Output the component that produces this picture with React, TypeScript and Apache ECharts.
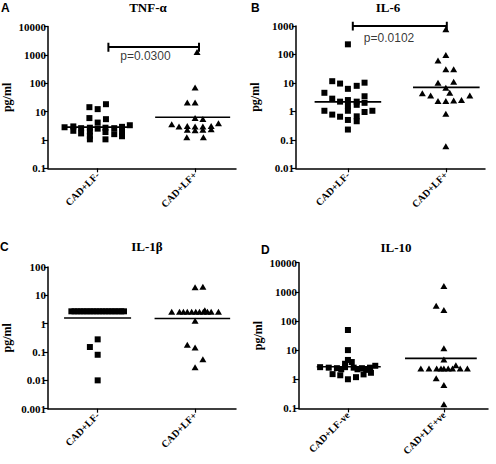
import React, { useEffect, useRef } from "react";
import * as echarts from "echarts";

// ---------- categories ----------
const categoriesABC = ["CAD+LF-", "CAD+LF+"];
const categoriesD = ["CAD+LF-ve", "CAD+LF+ve"];
const panelTitles = ["TNF-α", "IL-6", "IL-1β", "IL-10"];
const panelLetters = ["A", "B", "C", "D"];
const yAxisName = "pg/ml";

// ---------- A: TNF-α (pg/ml) ----------
const tnfNeg = [18.2, 14.3, 12.2, 5.9, 5.4, 4.1, 3.3, 3.0, 2.9, 2.8, 2.7, 2.7, 2.6, 2.6, 2.5, 2.1, 2.0, 1.9, 1.9, 1.7, 1.6, 1.4, 1.35, 1.05, 1.05];
const tnfPos = [1250, 70, 21, 21, 5.9, 5.5, 3.6, 3.0, 3.1, 2.3, 3.0, 2.2, 3.0, 2.3, 3.1, 2.4, 3.9, 1.25, 1.25];
const tnfLines = [2.82, 6.3];

// ---------- B: IL-6 ----------
const il6Neg = [227, 11.5, 9.5, 6.2, 7.9, 10.2, 4.5, 3.4, 2.8, 2.2, 2.5, 2.2, 1.7, 2.0, 1.6, 1.05, 0.77, 0.65, 1.05, 0.5, 0.67, 0.45, 0.95, 1.05, 0.23];
const il6Pos = [765, 96, 61, 30, 30, 10.1, 11, 6.7, 4.5, 4.3, 3.6, 2.3, 2.3, 2.4, 2.5, 3.6, 0.83, 0.059];
const il6Lines = [2.16, 6.95];

// ---------- C: IL-1β ----------
const il1bNeg = [2.73, 2.73, 2.73, 2.73, 2.73, 2.73, 2.73, 2.73, 2.73, 2.73, 2.73, 2.73, 2.73, 2.73, 2.73, 2.73, 2.73, 2.73, 0.28, 0.15, 0.08, 0.01];
const il1bPos = [19.2, 20, 2.64, 2.64, 2.64, 2.64, 2.64, 2.64, 2.64, 2.64, 2.64, 2.64, 2.64, 3.0, 1.28, 0.18, 0.145, 0.056, 0.029];
const il1bLines = [1.58, 1.52];

// ---------- D: IL-10 ----------
const il10Neg = [49, 10, 4.6, 3.9, 2.6, 2.5, 2.4, 2.6, 2.5, 2.4, 2.5, 2.9, 3.4, 2.2, 2.2, 2.1, 1.5, 1.37, 1.0, 1.18, 1.47, 1.67];
const il10Pos = [1580, 330, 237, 11.5, 4.8, 2.35, 2.35, 2.35, 2.35, 2.35, 2.35, 2.35, 2.35, 2.35, 3.0, 1.08, 0.63, 0.14];
const il10Lines = [2.68, 5.2];

// ---------- significance ----------
const pLabels = ["p=0.0300", "p=0.0102"];

// ---------- layout (horizontal scatter of dots around each category) ----------
const tnfNegJitter = [0.085, -0.085, 0, -0.085, 0.085, 0, 0.33, -0.25, 0.25, -0.34, -0.08, 0.08, -0.17, 0.17, 0, -0.25, -0.08, 0.08, 0.25, -0.17, 0.17, -0.08, 0.25, -0.08, 0.08];
const tnfPosJitter = [0.02, 0, -0.08, 0, 0, 0.08, -0.24, -0.165, -0.08, -0.08, 0, 0, 0.08, 0.08, 0.165, 0.165, 0.24, -0.085, 0.085];
const il6NegJitter = [0, -0.16, -0.08, 0, 0.09, 0.17, -0.24, 0.17, -0.16, -0.08, 0, 0.09, 0.09, 0.17, 0, -0.24, -0.16, -0.08, 0, 0, 0.09, 0.09, 0.17, 0.25, 0];
const il6PosJitter = [0, 0, -0.08, 0, 0.08, -0.08, 0.08, 0, 0.04, -0.24, -0.155, -0.08, 0, 0.08, 0.16, 0.245, 0, 0];
const il1bNegJitter = [-0.27, -0.238, -0.206, -0.174, -0.142, -0.11, -0.078, -0.046, -0.014, 0.018, 0.05, 0.082, 0.114, 0.146, 0.178, 0.21, 0.242, 0.27, 0, -0.08, 0, 0];
const il1bPosJitter = [0, 0.08, -0.24, -0.16, -0.12, -0.08, -0.035, 0.007, 0.045, 0.085, 0.127, 0.165, 0.24, 0.1, 0, -0.08, 0, 0.08, 0];
const il10NegJitter = [0, 0, 0, 0.04, -0.29, -0.2, -0.115, -0.03, 0.06, 0.146, 0.23, 0.285, -0.03, -0.07, 0.1, 0.19, -0.16, -0.08, 0, 0.084, 0.163, 0.24];
const il10PosJitter = [0, -0.08, 0, 0, 0, -0.24, -0.155, -0.075, -0.03, 0, 0.045, 0.09, 0.17, 0.245, 0.125, -0.08, 0, 0];

const SERIF = '"Liberation Serif", "Times New Roman", serif';
const SANS = '"Liberation Sans", Arial, sans-serif';

type Panel = {
  neg: number[]; negJ: number[]; pos: number[]; posJ: number[]; lines: number[];
  cats: string[]; yMin: number; yMax: number; xMin: number; xMax: number;
  grid: { left: number; top: number; width: number; height: number };
  spans: number[][];
  titleX: number; titleY: number; letterX: number; letterY: number;
  bracket?: { x1: number; x2: number; y: number; yHi: number; yLo: number; tx: number; ty: number; label: string };
};

const panels: Panel[] = [
  {
    neg: tnfNeg, negJ: tnfNegJitter, pos: tnfPos, posJ: tnfPosJitter, lines: tnfLines,
    cats: categoriesABC, yMin: 0.1, yMax: 10000, xMin: 0.49, xMax: 2.42,
    grid: { left: 48, top: 26.5, width: 188, height: 141.8 },
    spans: [[0.65, 1.34], [1.59, 2.36]],
    titleX: 148, titleY: 1, letterX: 1, letterY: 1.5,
    bracket: { x1: 1.11, x2: 2.04, y: 1900, yHi: 2700, yLo: 1300, tx: 1.49, ty: 900, label: pLabels[0] },
  },
  {
    neg: il6Neg, negJ: il6NegJitter, pos: il6Pos, posJ: il6PosJitter, lines: il6Lines,
    cats: categoriesABC, yMin: 0.01, yMax: 1000, xMin: 0.47, xMax: 2.4,
    grid: { left: 296, top: 26, width: 189, height: 142.3 },
    spans: [[0.66, 1.34], [1.665, 2.345]],
    titleX: 388, titleY: 0.5, letterX: 251, letterY: 1.5,
    bracket: { x1: 1.05, x2: 2.01, y: 1000, yHi: 1420, yLo: 690, tx: 1.42, ty: 385, label: pLabels[1] },
  },
  {
    neg: il1bNeg, negJ: il1bNegJitter, pos: il1bPos, posJ: il1bPosJitter, lines: il1bLines,
    cats: categoriesABC, yMin: 0.001, yMax: 100, xMin: 0.49, xMax: 2.42,
    grid: { left: 48, top: 267, width: 188, height: 141.7 },
    spans: [[0.655, 1.343], [1.584, 2.36]],
    titleX: 147, titleY: 240, letterX: 0, letterY: 240.5,
    bracket: undefined,
  },
  {
    neg: il10Neg, negJ: il10NegJitter, pos: il10Pos, posJ: il10PosJitter, lines: il10Lines,
    cats: categoriesD, yMin: 0.1, yMax: 10000, xMin: 0.49, xMax: 2.46,
    grid: { left: 299, top: 262.7, width: 189, height: 145.7 },
    spans: [[0.675, 1.342], [1.595, 2.343]],
    titleX: 396, titleY: 240.5, letterX: 261, letterY: 244,
    bracket: undefined,
  },
];

function fmtLog(v: number): string {
  return String(parseFloat(v.toPrecision(4)));
}

function buildOption() {
  const grid: any[] = [];
  const xAxis: any[] = [];
  const yAxis: any[] = [];
  const series: any[] = [];
  const graphic: any[] = [];

  panels.forEach((p, i) => {
    grid.push({ ...p.grid, containLabel: false });
    xAxis.push({
      type: "value",
      gridIndex: i,
      min: p.xMin,
      max: p.xMax,
      splitLine: { show: false },
      axisLine: { show: true, lineStyle: { color: "#000", width: 1.5 } },
      axisTick: { show: true, customValues: [1, 2], length: 4, lineStyle: { color: "#000", width: 1.2 } },
      axisLabel: {
        show: true,
        customValues: [1, 2],
        rotate: 45,
        margin: 5,
        color: "#000",
        fontFamily: SERIF,
        fontWeight: "bold",
        fontSize: 10,
        formatter: (v: number) => p.cats[Math.round(v) - 1] ?? "",
      },
    });
    yAxis.push({
      type: "log",
      logBase: 10,
      gridIndex: i,
      min: p.yMin,
      max: p.yMax,
      name: yAxisName,
      nameLocation: "middle",
      nameGap: 35,
      nameTextStyle: { color: "#000", fontFamily: SERIF, fontWeight: "bold", fontSize: 12 },
      splitLine: { show: false },
      minorTick: { show: false },
      axisLine: { show: true, lineStyle: { color: "#000", width: 1.5 } },
      axisTick: { show: true, length: 4, lineStyle: { color: "#000", width: 1.2 } },
      axisLabel: {
        color: "#000",
        fontFamily: SERIF,
        fontWeight: "bold",
        fontSize: 11,
        margin: 2,
        formatter: fmtLog,
      },
    });

    series.push({
      type: "scatter",
      xAxisIndex: i,
      yAxisIndex: i,
      symbol: "rect",
      symbolSize: 6,
      itemStyle: { color: "#000", opacity: 1 },
      silent: true,
      data: p.neg.map((v, k) => [1 + p.negJ[k], v]),
    });
    series.push({
      type: "scatter",
      xAxisIndex: i,
      yAxisIndex: i,
      symbol: "triangle",
      symbolSize: [7, 6],
      itemStyle: { color: "#000", opacity: 1 },
      silent: true,
      data: p.pos.map((v, k) => [2 + p.posJ[k], v]),
    });
    p.lines.forEach((m, g) => {
      series.push({
        type: "line",
        xAxisIndex: i,
        yAxisIndex: i,
        symbol: "none",
        silent: true,
        z: 3,
        lineStyle: { color: "#000", width: 1.6 },
        data: [[p.spans[g][0], m], [p.spans[g][1], m]],
      });
    });
    if (p.bracket) {
      const b = p.bracket;
      series.push({
        type: "line",
        xAxisIndex: i,
        yAxisIndex: i,
        symbol: "none",
        silent: true,
        clip: false,
        lineStyle: { color: "#000", width: 2 },
        data: [[b.x1, b.yHi], [b.x1, b.yLo], [b.x1, b.y], [b.x2, b.y], [b.x2, b.yHi], [b.x2, b.yLo]],
      });
      series.push({
        type: "scatter",
        xAxisIndex: i,
        yAxisIndex: i,
        symbol: "circle",
        symbolSize: 2,
        silent: true,
        clip: false,
        itemStyle: { color: "rgba(0,0,0,0)" },
        label: {
          show: true,
          position: "inside",
          formatter: () => b.label,
          color: "#000",
          textBorderWidth: 0,
          textBorderColor: "transparent",
          fontFamily: SANS,
          fontSize: 12,
        },
        data: [[b.tx, b.ty]],
      });
    }

    graphic.push({
      type: "text",
      x: p.titleX,
      y: p.titleY,
      style: {
        text: panelTitles[i],
        fill: "#000",
        font: `bold 13px ${SERIF}`,
        align: "center",
        textAlign: "center",
        verticalAlign: "top",
        textVerticalAlign: "top",
      },
    });
    graphic.push({
      type: "text",
      x: p.letterX,
      y: p.letterY,
      style: {
        text: panelLetters[i],
        fill: "#000",
        font: `bold 12px ${SANS}`,
        align: "left",
        textAlign: "left",
        verticalAlign: "top",
        textVerticalAlign: "top",
      },
    });
  });

  return {
    animation: false,
    backgroundColor: "#fff",
    grid,
    xAxis,
    yAxis,
    series,
    graphic,
  };
}

export default function App() {
  const ref = useRef<HTMLDivElement>(null);
  useEffect(() => {
    if (!ref.current) return;
    const chart = echarts.init(ref.current, undefined, { renderer: "svg" });
    chart.setOption(buildOption() as any);
    return () => chart.dispose();
  }, []);
  return (
    <div
      ref={ref}
      style={{ position: "fixed", left: 0, top: 0, width: 496, height: 464, background: "#fff" }}
    />
  );
}
